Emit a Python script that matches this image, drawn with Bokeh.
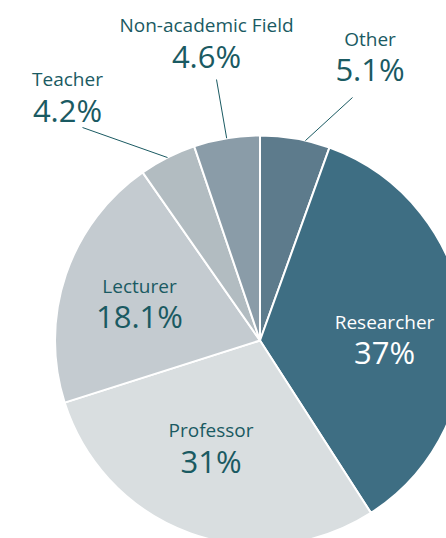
import math
from bokeh.plotting import figure
from bokeh.models import ColumnDataSource, Range1d
from bokeh.core.properties import value
from bokeh.embed import file_html
from bokeh.resources import INLINE

# ---- data (slice shares as drawn, clockwise from 12 o'clock) ----
categories = ["Other", "Researcher", "Professor", "Lecturer", "Teacher", "Non-academic Field"]
shares = [5.5, 35.4, 29.2, 20.2, 4.5, 5.2]
pct_labels = ["5.1%", "37%", "31%", "18.1%", "4.2%", "4.6%"]

# ---- styling / layout ----
colors = ["#5d7b8c", "#3e6e83", "#d9dee0", "#c4cbd0", "#b2bcc1", "#8a9ca8"]
text_colors = ["#1a5a62", "#ffffff", "#1a5a62", "#1a5a62", "#1a5a62", "#1a5a62"]
TEXT = "#1a5a62"
CX, CY, R = 259.5, -340.0, 205.0
NAME_ADJ, PCT_ADJ = 8, 13  # renderer baseline correction (px)
# label block anchor offsets from pie centre (dx, name-baseline dy, pct-baseline dy) in px (down positive)
label_layout = {
    "Other": (110, -294, -259),
    "Researcher": (124.5, -11, 24),
    "Professor": (-49, 97, 133),
    "Lecturer": (-120.5, -47, -12),
    "Teacher": (-192.5, -254, -218),
    "Non-academic Field": (-53.5, -308, -272),
}
# leader lines: (angle shift in degrees on the rim, end dx, end dy)
leader_layout = {
    "Other": (2.9, 92.5, -243),
    "Teacher": (0.0, -177.5, -213),
    "Non-academic Field": (0.0, -43.5, -261),
}

W, H = 446, 538
p = figure(width=W, height=H, x_range=Range1d(0, W), y_range=Range1d(-H, 0),
           output_backend="svg", toolbar_location=None, min_border=0)
p.axis.visible = False
p.grid.visible = False
p.outline_line_color = None
p.background_fill_color = "white"
p.border_fill_color = "white"

total = sum(shares)
starts, ends, mids = [], [], []
cum = 0.0
for s in shares:
    c0 = cum / total
    cum += s
    c1 = cum / total
    starts.append(math.pi / 2 - 2 * math.pi * c0)
    ends.append(math.pi / 2 - 2 * math.pi * c1)
    mids.append(math.pi / 2 - 2 * math.pi * (c0 + c1) / 2)

src = ColumnDataSource(dict(cat=categories, start=starts, end=ends, color=colors))
p.wedge(x=CX, y=CY, radius=R, start_angle="start", end_angle="end", direction="clock",
        fill_color="color", line_color="white", line_width=2, source=src)

# leader lines
for cat, mid in zip(categories, mids):
    if cat in leader_layout:
        shift, ex, ey = leader_layout[cat]
        a = mid - math.radians(shift)
        x0 = CX + R * math.cos(a)
        y0 = CY + R * math.sin(a)
        p.line([x0, CX + ex], [y0, CY - ey], line_color=TEXT, line_width=1)

# labels
nx, ny, px, py, tc = [], [], [], [], []
for cat, col in zip(categories, text_colors):
    dx, dn, dp = label_layout[cat]
    nx.append(CX + dx); ny.append(CY - dn + NAME_ADJ)
    px.append(CX + dx); py.append(CY - dp + PCT_ADJ)
    tc.append(col)

p.text(x=nx, y=ny, text=categories, text_color=tc, text_align="center",
       text_baseline="alphabetic", text_font=value("Open Sans"), text_font_size="19px")
p.text(x=px, y=py, text=pct_labels, text_color=tc, text_align="center",
       text_baseline="alphabetic", text_font=value("Open Sans"), text_font_size="31px")

open("out.html", "w").write(file_html(p, INLINE))
